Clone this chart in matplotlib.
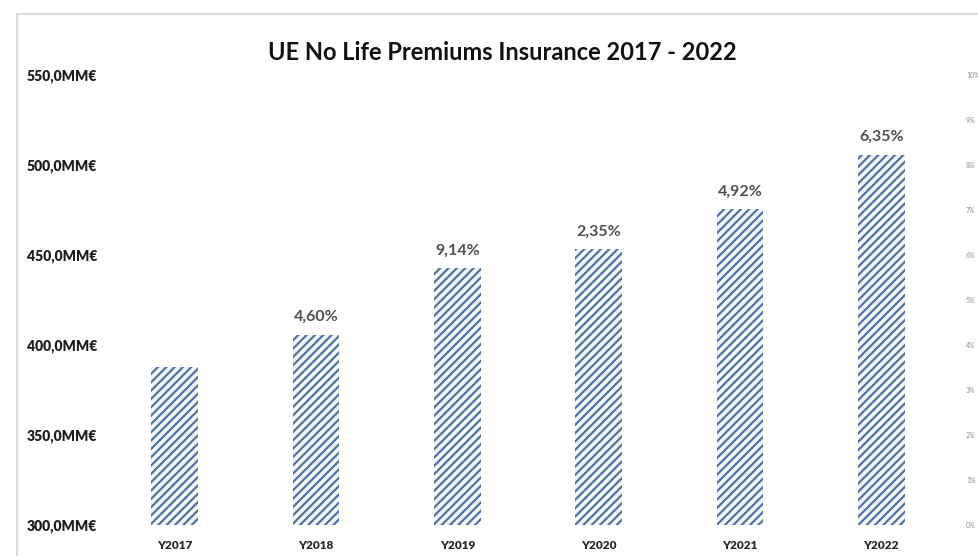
import matplotlib
matplotlib.use("Agg")
import matplotlib.pyplot as plt
from matplotlib.lines import Line2D
from matplotlib.ticker import FuncFormatter

# Data
years = ["Y2017", "Y2018", "Y2019", "Y2020", "Y2021", "Y2022"]
premiums = [387.8, 405.6, 442.7, 453.1, 475.4, 505.6]  # MM€
growth_labels = ["", "4,60%", "9,14%", "2,35%", "4,92%", "6,35%"]
left_ticks = [300, 350, 400, 450, 500, 550]
right_ticks = [0, 1, 2, 3, 4, 5, 6, 7, 8, 9, 10]

plt.rcParams["font.family"] = ["Lato", "DejaVu Sans"]
plt.rcParams["hatch.linewidth"] = 1.6

W, H = 979, 556
fig = plt.figure(figsize=(W / 100, H / 100), dpi=100)
fig.patch.set_facecolor("white")

ax = fig.add_axes([104 / W, 1 - 525 / H, 848 / W, 450 / H])
x = list(range(len(years)))
bars = ax.bar(x, premiums, width=0.33, bottom=0, color="#f4f8fd",
              edgecolor="#4f72a8", linewidth=0, hatch="////")

ax.set_xlim(-0.5, len(years) - 0.5)
ax.set_ylim(left_ticks[0], left_ticks[-1])
ax.set_yticks(left_ticks)
ax.set_yticklabels([f"{v:.1f}".replace(".", ",") + "MM€" for v in left_ticks],
                   fontweight="heavy", fontsize=10, color="#1e1e1e")
ax.set_xticks(x)
ax.set_xticklabels(years, fontweight="heavy", fontsize=8.5, color="#2a2a2a")
for s in ax.spines.values():
    s.set_visible(False)
ax.tick_params(axis="both", length=0)
ax.tick_params(axis="y", pad=5)
ax.tick_params(axis="x", pad=11)

for b, txt in zip(bars, growth_labels):
    if txt:
        ax.text(b.get_x() + b.get_width() / 2, b.get_height() + 6, txt,
                ha="center", va="bottom", fontsize=11.5, fontweight="bold",
                color="#505050")

# Secondary percentage axis
ax2 = ax.twinx()
ax2.set_ylim(0, 10)
ax2.set_yticks(right_ticks)
ax2.yaxis.set_major_formatter(FuncFormatter(lambda v, p: f"{int(v)}%"))
for s in ax2.spines.values():
    s.set_visible(False)
ax2.tick_params(axis="y", length=0, pad=10, labelsize=5, labelcolor="#8f8f8f")

fig.text(502 / W, 1 - 53 / H, "UE No Life Premiums Insurance 2017 - 2022",
         ha="center", va="center", fontsize=17, fontweight="bold", color="#111111")

# Chart area frame
fig.add_artist(Line2D([17 / W, 1], [1 - 14 / H, 1 - 14 / H], color="#dcdcdc", lw=1.5,
                      transform=fig.transFigure))
fig.add_artist(Line2D([17 / W, 17 / W], [0, 1 - 14 / H], color="#dcdcdc", lw=1.5,
                      transform=fig.transFigure))

fig.savefig("out.png", dpi=100, facecolor="white")
